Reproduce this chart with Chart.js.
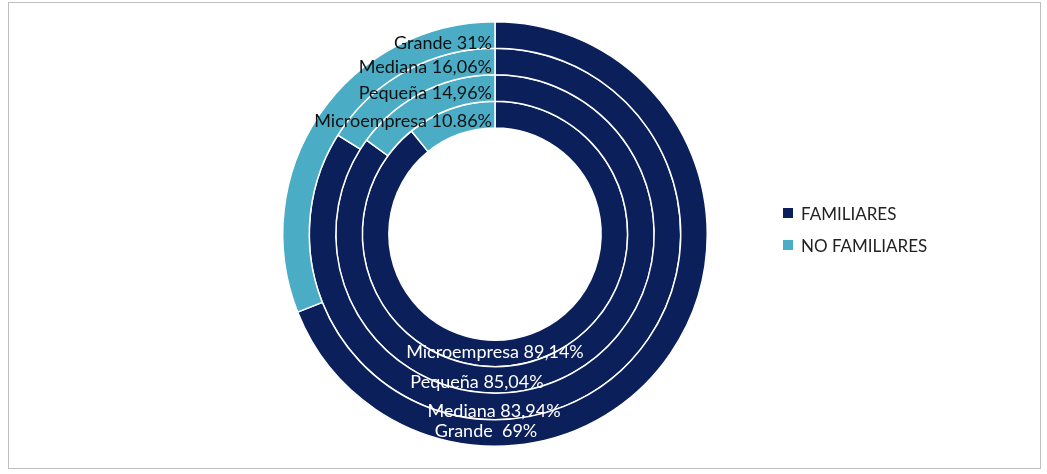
<!DOCTYPE html>
<html><head><meta charset="utf-8">
<script src="https://cdn.jsdelivr.net/npm/chart.js@4"></script>
<style>
body{margin:0;background:#fff;font-family:Lato,"Open Sans",sans-serif;}
#box{position:absolute;left:8px;top:2px;width:1031px;height:465px;border:1px solid #bfbfbf;}
#wrap{position:absolute;left:0;top:0;width:990px;height:462px;}
#legend{position:absolute;left:783px;top:197px;font-size:17px;color:#222;}
#legend div{display:flex;align-items:center;height:32px;}
#legend span{display:inline-block;width:10px;height:10px;margin-right:8px;}
</style></head><body>
<div id="wrap"><canvas id="c"></canvas></div>
<div id="box"></div>
<div id="legend"></div>
<script>
const seriesNames=["FAMILIARES","NO FAMILIARES"];
const sizes=["Grande","Mediana","Pequeña","Microempresa"];
const familiares=[69,83.94,85.04,89.14];
const noFamiliares=[31,16.06,14.96,10.86];
const famLabels=["Grande  69%","Mediana 83,94%","Pequeña 85,04%","Microempresa 89,14%"];
const noFamLabels=["Grande 31%","Mediana 16,06%","Pequeña 14,96%","Microempresa 10.86%"];
const colors=["#0b1f5b","#4bacc6"];
const topOff=[0.901,0.784,0.662,0.531];
const botOff=[0.93,0.836,0.70,0.559];
const botDx=[-9,-1,-18,0];

const lg=document.getElementById('legend');
seriesNames.forEach((n,i)=>{lg.innerHTML+=`<div><span style="background:${colors[i]}"></span>${n}</div>`;});

const labelPlugin={id:'lbl',afterDatasetsDraw(chart){
  const ctx=chart.ctx;const m=chart.getDatasetMeta(0).data[0];
  const cx=m.x,cy=m.y,R=m.outerRadius;
  ctx.save();ctx.font='18px Lato, "Open Sans", sans-serif';ctx.textBaseline='middle';
  sizes.forEach((s,i)=>{
    ctx.fillStyle='#111';ctx.textAlign='right';
    ctx.fillText(noFamLabels[i],cx-3,cy-R*topOff[i]);
    ctx.fillStyle='#fff';ctx.textAlign='center';
    ctx.fillText(famLabels[i],cx+botDx[i],cy+R*botOff[i]);
  });
  ctx.restore();
}};

new Chart(document.getElementById('c'),{
  type:'doughnut',
  data:{labels:seriesNames,datasets:sizes.map((s,i)=>({label:s,data:[familiares[i],noFamiliares[i]],backgroundColor:colors,borderColor:'#fff',borderWidth:1.5}))},
  options:{responsive:true,maintainAspectRatio:false,animation:false,cutout:'50%',
    layout:{padding:{top:21,bottom:15}},
    plugins:{legend:{display:false},tooltip:{enabled:false}}},
  plugins:[labelPlugin]
});
</script></body></html>
